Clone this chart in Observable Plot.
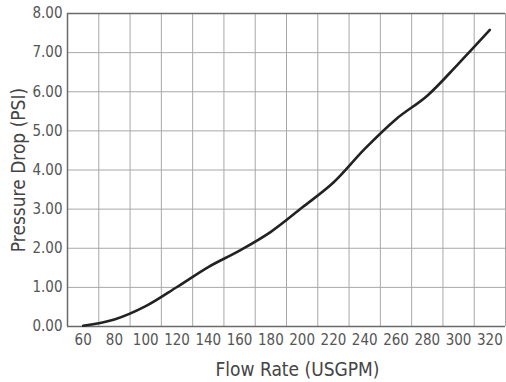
<!DOCTYPE html>
<html>
<head>
<meta charset="utf-8">
<script src="https://cdn.jsdelivr.net/npm/d3@7"></script>
<script src="https://cdn.jsdelivr.net/npm/@observablehq/plot@0.6"></script>
<style>
  html, body { margin: 0; padding: 0; background: #fff; }
  #chart svg { display: block; }
</style>
</head>
<body>
<div id="chart"></div>
<script>
// Data
const flowRate = [60, 80, 100, 120, 140, 160, 180, 200, 220, 240, 260, 280, 300, 320];
const pressureDrop = [0.02, 0.18, 0.52, 1.01, 1.52, 1.94, 2.42, 3.04, 3.68, 4.54, 5.30, 5.90, 6.72, 7.58];
const xTickLabels = [60, 80, 100, 120, 140, 160, 180, 200, 220, 240, 260, 280, 300, 320];
const yTickLabels = [0, 1, 2, 3, 4, 5, 6, 7, 8];
const xGridLines = [70, 90, 110, 130, 150, 170, 190, 210, 230, 250, 270, 290, 310, 330];
const yGridLines = [1, 2, 3, 4, 5, 6, 7];
const xTitle = "Flow Rate (USGPM)";
const yTitle = "Pressure Drop (PSI)";

const rows = flowRate.map((f, i) => ({flow: f, drop: pressureDrop[i]}));
const font = "'Liberation Sans Narrow', 'Arial Narrow', 'DejaVu Sans Condensed', sans-serif";

const chart = Plot.plot({
  width: 506,
  height: 382,
  marginLeft: 67,
  marginRight: 1,
  marginTop: 13,
  marginBottom: 56,
  style: {fontFamily: font, background: "#fff", overflow: "visible"},
  x: {domain: [50, 330], ticks: xTickLabels, tickSize: 0, tickPadding: 8, label: null},
  y: {domain: [0, 8], ticks: yTickLabels, tickSize: 0, tickPadding: 5, tickFormat: d3.format(".2f"), label: null},
  marks: [
    Plot.ruleX(xGridLines, {stroke: "#a8a8a8", strokeWidth: 1}),
    Plot.ruleY(yGridLines, {stroke: "#a8a8a8", strokeWidth: 1}),
    Plot.ruleX([50], {stroke: "#6a6a6a", strokeWidth: 1.5}),
    Plot.ruleY([0, 8], {stroke: "#6a6a6a", strokeWidth: 1.5}),
    Plot.line(rows, {x: "flow", y: "drop", stroke: "#222", strokeWidth: 2.6, curve: "catmull-rom"}),
    Plot.axisX({ticks: xTickLabels, tickSize: 0, tickPadding: 8, fontSize: 15, fill: "#555", label: null}),
    Plot.axisY({ticks: yTickLabels, tickSize: 0, tickPadding: 5, fontSize: 15, fill: "#555", tickFormat: d3.format(".2f"), label: null}),
    Plot.text([xTitle], {frameAnchor: "bottom", text: d => d, dx: 11, dy: 43, fontSize: 19, fill: "#444", lineAnchor: "middle", textAnchor: "middle"}),
    Plot.text([yTitle], {frameAnchor: "left", text: d => d, dx: -49, dy: 0, rotate: -90, fontSize: 19, fill: "#444", lineAnchor: "middle", textAnchor: "middle"})
  ]
});
document.getElementById("chart").appendChild(chart);
</script>
</body>
</html>
